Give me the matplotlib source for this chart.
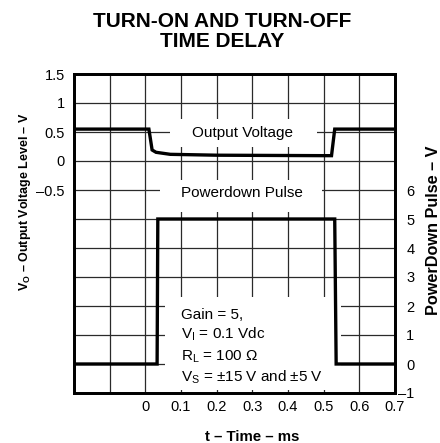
import matplotlib
matplotlib.use('Agg')
import matplotlib.pyplot as plt
from matplotlib.patches import Rectangle

plt.rcParams['font.family'] = ['Liberation Sans', 'DejaVu Sans']
plt.rcParams['mathtext.fontset'] = 'custom'
plt.rcParams['mathtext.rm'] = 'Liberation Sans'
plt.rcParams['mathtext.bf'] = 'Liberation Sans:bold'
plt.rcParams['mathtext.it'] = 'Liberation Sans:italic'

# Time grid (ms)
time_ticks = [-0.2, -0.1, 0.0, 0.1, 0.2, 0.3, 0.4, 0.5, 0.6, 0.7]
time_labels = ['', '', '0', '0.1', '0.2', '0.3', '0.4', '0.5', '0.6', '0.7']

# Output voltage axis (V)
vo_ticks = [1.5, 1.0, 0.5, 0.0, -0.5, -1.0, -1.5, -2.0, -2.5, -3.0, -3.5, -4.0]
vo_labels = ['1.5', '1', '0.5', '0', '–0.5', '', '', '', '', '', '', '']

# Powerdown pulse axis (V)
pd_ticks = [-1, 0, 1, 2, 3, 4, 5, 6, 7, 8, 9, 10]
pd_labels = ['–1', '0', '1', '2', '3', '4', '5', '6', '', '', '', '']

# Output voltage trace
t_out = [-0.2, 0.000, 0.010, 0.019, 0.030, 0.070, 0.200, 0.500, 0.522, 0.531, 0.7]
v_out = [0.55, 0.55, 0.55, 0.19, 0.15, 0.115, 0.10, 0.092, 0.092, 0.55, 0.55]

# Powerdown pulse trace
t_pd = [-0.2, 0.033, 0.035, 0.531, 0.535, 0.7]
v_pd = [0.0, 0.0, 5.0, 5.0, 0.0, 0.0]

W, H = 440, 443
fig = plt.figure(figsize=(W / 100, H / 100), dpi=100)
ax = fig.add_axes([74 / W, 50 / H, 321 / W, 319 / H])
ax2 = ax.twinx()

ax.set_xlim(-0.2, 0.7)
ax.set_ylim(-4.0, 1.5)
ax2.set_ylim(-1, 10)

ax.set_xticks(time_ticks)
ax.set_xticklabels(time_labels)
ax.set_yticks(vo_ticks)
ax.set_yticklabels(vo_labels)
ax2.set_yticks(pd_ticks)
ax2.set_yticklabels(pd_labels)

ax.tick_params(axis='y', length=0, labelsize=10.5, pad=6.5)
ax.tick_params(axis='x', length=0, labelsize=10.5, pad=5)
ax2.tick_params(axis='y', length=0, labelsize=10.5, pad=14)
for lbl in ax2.get_yticklabels():
    lbl.set_horizontalalignment('right')

ax.grid(True, color='#2a2a2a', linewidth=0.9)
ax.set_axisbelow(True)

for a in (ax, ax2):
    for s in a.spines.values():
        s.set_linewidth(2.0)
        s.set_color('black')

# White panels behind the annotations
box_kw = dict(facecolor='white', edgecolor='none', zorder=2)
ax.add_patch(Rectangle((0.069, 0.235), 0.481 - 0.069, 0.73 - 0.235, **box_kw))
ax.add_patch(Rectangle((0.041, -0.88), 0.495 - 0.041, -0.33 + 0.88, **box_kw))
ax.add_patch(Rectangle((0.055, -3.95), 0.548 - 0.055, -2.35 + 3.95, **box_kw))

ax.plot(t_out, v_out, color='black', linewidth=2.4, zorder=3,
        solid_joinstyle='miter')
ax2.plot(t_pd, v_pd, color='black', linewidth=2.4, zorder=3,
         solid_joinstyle='miter')

ax.text(0.272, 0.48, 'Output Voltage', fontsize=11, ha='center',
        va='center', zorder=4)
ax.text(0.272, -0.553, 'Powerdown Pulse', fontsize=11, ha='center',
        va='center', zorder=4)

cond_lines = ['Gain = 5,',
              r'V$_\mathregular{I}$ = 0.1 Vdc',
              r'R$_\mathregular{L}$ = 100 Ω',
              r'V$_\mathregular{S}$ = ±15 V and ±5 V']
cond_y = [1.56, 0.88, 0.13, -0.59]
for line, yv in zip(cond_lines, cond_y):
    ax2.text(0.099, yv, line, fontsize=11, ha='left', va='baseline',
             zorder=4)

# Axis titles
fig.text(252 / W, 1 - 441 / H, 't – Time – ms', fontsize=10.8,
         fontweight='bold', ha='center', va='baseline')
fig.text(25 / W, 1 - 202 / H, r'V$_\mathbf{O}$ – Output Voltage Level – V',
         fontsize=9.0, fontweight='bold', rotation=90, ha='center',
         va='center')
fig.text(433 / W, 1 - 230 / H, 'PowerDown Pulse – V', fontsize=11.7,
         fontweight='bold', rotation=90, ha='center', va='center')

fig.text(0.506, 1 - 26.7 / H, 'TURN-ON AND TURN-OFF', fontsize=15,
         fontweight='bold', ha='center', va='baseline')
fig.text(0.506, 1 - 46.7 / H, 'TIME DELAY', fontsize=15,
         fontweight='bold', ha='center', va='baseline')

fig.savefig('out.png', dpi=100)
